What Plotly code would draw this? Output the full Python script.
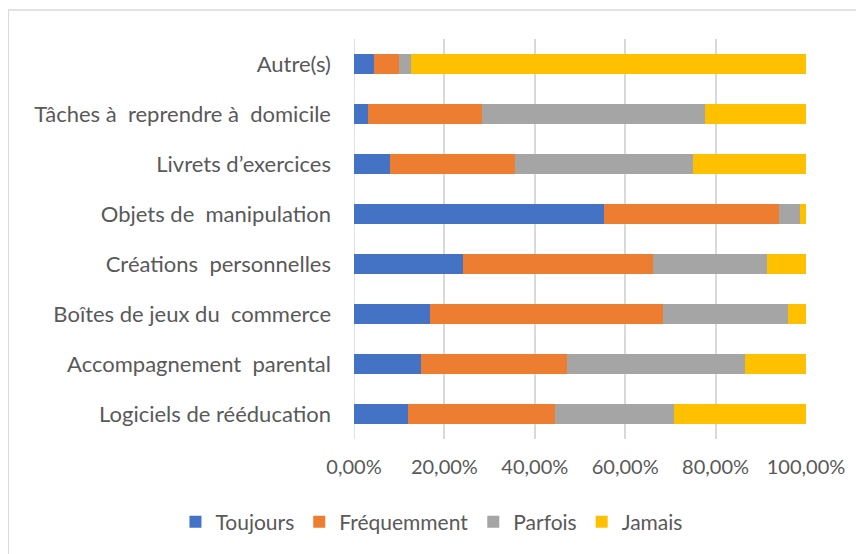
import plotly.graph_objects as go

# categories, bottom to top (as drawn)
categories = [
    "Logiciels de rééducation",
    "Accompagnement\u00a0 parental",
    "Boîtes de jeux du\u00a0 commerce",
    "Créations\u00a0 personnelles",
    "Objets de\u00a0 manipulation",
    "Livrets d\u2019exercices",
    "Tâches à\u00a0 reprendre à\u00a0 domicile",
    "Autre(s)",
]

# share of answers (%)
toujours = [12.0, 14.8, 16.8, 24.1, 55.4, 7.9, 3.2, 4.5]
frequemment = [32.5, 32.4, 51.5, 42.1, 38.7, 27.7, 25.1, 5.5]
parfois = [26.4, 39.3, 27.8, 25.2, 4.6, 39.5, 49.4, 2.6]
jamais = [29.1, 13.5, 3.9, 8.6, 1.3, 24.9, 22.3, 87.4]

tick_vals = [0, 20, 40, 60, 80, 100]
tick_text = ["0,00%", "20,00%", "40,00%", "60,00%", "80,00%", "100,00%"]

series = [
    ("Toujours", toujours, "#4472C4"),
    ("Fréquemment", frequemment, "#ED7D31"),
    ("Parfois", parfois, "#A5A5A5"),
    ("Jamais", jamais, "#FFC000"),
]

fig = go.Figure()
for name, vals, color in series:
    fig.add_trace(go.Bar(
        y=categories, x=vals, name=name, orientation="h",
        marker=dict(color=color, line=dict(width=0)),
    ))

FONT = "Lato, 'Open Sans', sans-serif"
GRID = "#D9D9D9"

# page body has an 8px margin, so margins are shifted to compensate
fig.update_layout(
    barmode="stack",
    bargap=0.6,
    width=864, height=554,
    margin=dict(l=346, r=66, t=31, b=123, autoexpand=False),
    plot_bgcolor="white",
    paper_bgcolor="white",
    font=dict(family=FONT, size=22, color="#595959"),
    showlegend=True,
    legend=dict(
        orientation="h", xref="paper", yref="paper",
        x=-0.395, xanchor="left", y=-0.2075, yanchor="middle",
        font=dict(size=21, color="#595959"),
        traceorder="normal", itemwidth=30,
    ),
    xaxis=dict(
        range=[0, 100], tickvals=tick_vals, ticktext=tick_text,
        showgrid=True, gridcolor=GRID, gridwidth=1.5,
        zeroline=False, showline=False, ticks="", automargin=False,
        ticklabelstandoff=14,
        tickfont=dict(size=20, color="#595959"),
    ),
    yaxis=dict(
        type="category", showgrid=False, zeroline=False,
        showline=False, ticks="", ticklabelstandoff=22, automargin=False,
        tickfont=dict(size=22, color="#595959"),
    ),
    shapes=[
        # chart border
        dict(type="rect", xref="paper", yref="paper",
             x0=-0.765, x1=1.25, y0=-0.32, y1=1.0725,
             line=dict(color=GRID, width=1.5), layer="below"),
        # vertical axis line at 0
        dict(type="line", xref="x", yref="paper", x0=0, x1=0, y0=0, y1=1,
             line=dict(color=GRID, width=1.5), layer="below"),
    ],
)

fig.write_html("out.html")
